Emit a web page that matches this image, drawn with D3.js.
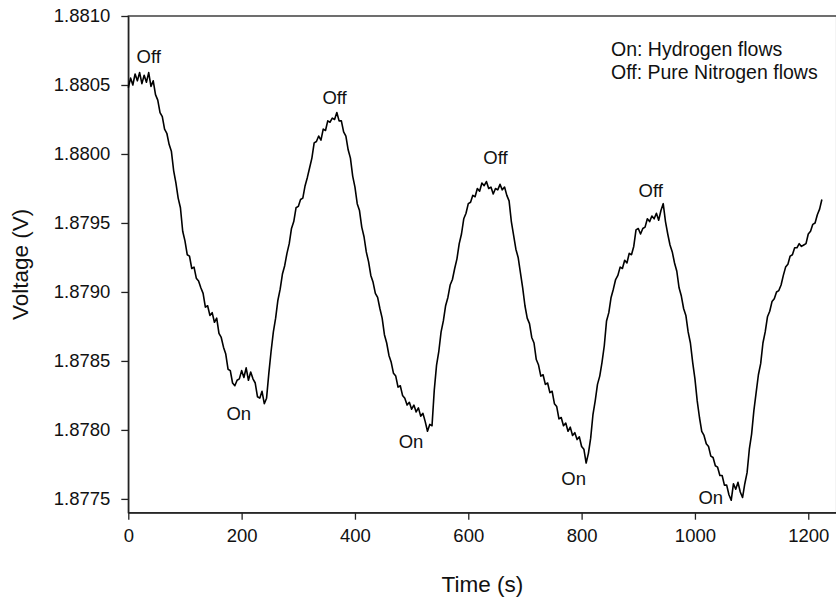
<!DOCTYPE html>
<html>

<head>
    <meta charset="utf-8" />
    <title>Voltage vs time</title>
    <style>
        body { margin: 0; background: #fff; }
        svg { display: block; font-family: "Liberation Sans", Arial, sans-serif; }
        .tick text { font-size: 18.5px; fill: #111; }
        .tick line, .domain { stroke: #222; stroke-width: 1.3px; }
    </style>
</head>

<body>
    <svg width=836 height=599></svg>
</body>

<script src="https://cdn.jsdelivr.net/npm/d3@7/dist/d3.min.js"></script>
<script>

    var sampleTimes = d3.range(0, 1225, 4);

    var volts = [
        1.88048, 1.88055, 1.88050, 1.88058, 1.88053, 1.88059, 1.88051, 1.88057, 1.88052, 1.88059, 1.88049, 1.88053, 1.88043, 1.88039, 1.88030, 1.88027, 1.88018, 1.88015, 1.88007, 1.88002, 1.87988, 1.87979, 1.87968, 1.87961, 1.87944,
        1.87937, 1.87927, 1.87926, 1.87917, 1.87918, 1.87910, 1.87908, 1.87903, 1.87899, 1.87889, 1.87890, 1.87883, 1.87885, 1.87878, 1.87881, 1.87870, 1.87867, 1.87860, 1.87855, 1.87844, 1.87843, 1.87834, 1.87832, 1.87836, 1.87837,
        1.87843, 1.87838, 1.87845, 1.87836, 1.87842, 1.87837, 1.87834, 1.87824, 1.87823, 1.87828, 1.87819, 1.87823, 1.87841, 1.87857, 1.87871, 1.87881, 1.87894, 1.87902, 1.87913, 1.87919, 1.87928, 1.87935, 1.87946, 1.87951, 1.87961,
        1.87962, 1.87967, 1.87968, 1.87977, 1.87983, 1.87990, 1.87997, 1.88008, 1.88009, 1.88013, 1.88010, 1.88018, 1.88017, 1.88024, 1.88023, 1.88026, 1.88025, 1.88030, 1.88024, 1.88024, 1.88016, 1.88013, 1.88003, 1.87997, 1.87984,
        1.87976, 1.87964, 1.87959, 1.87947, 1.87940, 1.87929, 1.87922, 1.87912, 1.87907, 1.87899, 1.87896, 1.87888, 1.87881, 1.87869, 1.87863, 1.87854, 1.87849, 1.87841, 1.87839, 1.87831, 1.87832, 1.87825, 1.87823, 1.87818, 1.87820,
        1.87815, 1.87818, 1.87813, 1.87816, 1.87810, 1.87812, 1.87806, 1.87799, 1.87804, 1.87803, 1.87829, 1.87847, 1.87857, 1.87871, 1.87879, 1.87890, 1.87896, 1.87905, 1.87909, 1.87917, 1.87924, 1.87935, 1.87942, 1.87953, 1.87957,
        1.87964, 1.87965, 1.87970, 1.87969, 1.87975, 1.87973, 1.87979, 1.87977, 1.87980, 1.87975, 1.87976, 1.87971, 1.87975, 1.87974, 1.87978, 1.87974, 1.87976, 1.87970, 1.87966, 1.87951, 1.87941, 1.87931, 1.87925, 1.87914, 1.87903,
        1.87890, 1.87881, 1.87877, 1.87867, 1.87863, 1.87851, 1.87847, 1.87839, 1.87840, 1.87833, 1.87834, 1.87827, 1.87828, 1.87819, 1.87817, 1.87808, 1.87809, 1.87803, 1.87805, 1.87799, 1.87802, 1.87796, 1.87798, 1.87793, 1.87795,
        1.87788, 1.87786, 1.87776, 1.87783, 1.87794, 1.87811, 1.87821, 1.87833, 1.87839, 1.87849, 1.87861, 1.87879, 1.87885, 1.87896, 1.87902, 1.87909, 1.87912, 1.87918, 1.87917, 1.87923, 1.87921, 1.87928, 1.87927, 1.87933, 1.87945,
        1.87946, 1.87942, 1.87946, 1.87947, 1.87953, 1.87951, 1.87955, 1.87953, 1.87957, 1.87952, 1.87959, 1.87964, 1.87951, 1.87942, 1.87934, 1.87929, 1.87921, 1.87915, 1.87903, 1.87897, 1.87888, 1.87883, 1.87871, 1.87863, 1.87849,
        1.87837, 1.87821, 1.87809, 1.87799, 1.87796, 1.87790, 1.87788, 1.87781, 1.87780, 1.87774, 1.87773, 1.87767, 1.87767, 1.87760, 1.87760, 1.87753, 1.87749, 1.87761, 1.87757, 1.87762, 1.87755, 1.87751, 1.87761, 1.87769, 1.87786,
        1.87797, 1.87814, 1.87827, 1.87840, 1.87848, 1.87863, 1.87871, 1.87882, 1.87886, 1.87893, 1.87895, 1.87900, 1.87901, 1.87905, 1.87912, 1.87918, 1.87920, 1.87926, 1.87927, 1.87932, 1.87932, 1.87935, 1.87933, 1.87934, 1.87935,
        1.87942, 1.87944, 1.87949, 1.87950, 1.87956, 1.87960, 1.87967
    ];

    var xTicks = [0, 200, 400, 600, 800, 1000, 1200];
    var yTicks = [1.8775, 1.8780, 1.8785, 1.8790, 1.8795, 1.8800, 1.8805, 1.8810];

    // On / Off marks: text, time, voltage
    var markText = ['Off', 'On', 'Off', 'On', 'Off', 'On', 'Off', 'On'];
    var markTime = [36, 195, 364, 499, 648, 786, 922, 1028];
    var markVolt = [1.88066, 1.87807, 1.88036, 1.87787, 1.87993, 1.87760, 1.87969, 1.87746];

    var legendLines = ['On: Hydrogen flows', 'Off: Pure Nitrogen flows'];

    var padL = 128.3, padT = 16, padR = 836.6, padB = 512.7;

    var x = d3.scaleLinear().domain([0, 1250]).range([padL, padR]);
    var y = d3.scaleLinear().domain([1.8774, 1.8810]).range([padB, padT]);

    var svg = d3.select('svg');

    // frame (right side falls off the picture)
    svg.append('rect')
        .attr('x', padL)
        .attr('y', padT)
        .attr('width', padR - padL)
        .attr('height', padB - padT)
        .attr('fill', 'none')
        .attr('stroke', '#222')
        .attr('stroke-width', 1.3);

    svg.append('g')
        .attr('transform', 'translate(0,' + padB + ')')
        .call(d3.axisBottom(x).tickValues(xTicks).tickFormat(d3.format('d'))
            .tickSize(7).tickSizeOuter(0).tickPadding(9));

    svg.append('g')
        .attr('transform', 'translate(' + padL + ',0)')
        .call(d3.axisLeft(y).tickValues(yTicks).tickFormat(d3.format('.4f'))
            .tickSize(7).tickSizeOuter(0).tickPadding(11));

    var pts = volts.map(function (v, i) {
        return [sampleTimes[i], v];
    });

    svg.append('path')
        .datum(pts)
        .attr('fill', 'none')
        .attr('stroke', '#000')
        .attr('stroke-width', 1.6)
        .attr('stroke-linejoin', 'round')
        .attr('d', d3.line()
            .x(function (d) { return x(d[0]); })
            .y(function (d) { return y(d[1]); }));

    svg.selectAll('text.mark')
        .data(markText)
        .enter()
        .append('text')
        .attr('class', 'mark')
        .attr('x', function (d, i) { return x(markTime[i]); })
        .attr('y', function (d, i) { return y(markVolt[i]); })
        .attr('text-anchor', 'middle')
        .style('font-size', '18.5px')
        .attr('fill', '#111')
        .text(function (d) { return d; });

    svg.selectAll('text.legend')
        .data(legendLines)
        .enter()
        .append('text')
        .attr('class', 'legend')
        .attr('x', 611)
        .attr('y', function (d, i) { return 56 + i * 22.7; })
        .style('font-size', '19.5px')
        .attr('fill', '#111')
        .text(function (d) { return d; });

    svg.append('text')
        .attr('x', (padL + padR) / 2)
        .attr('y', 591.5)
        .attr('text-anchor', 'middle')
        .style('font-size', '22.5px')
        .attr('fill', '#111')
        .text('Time (s)');

    svg.append('text')
        .attr('transform', 'translate(28,' + (padT + padB) / 2 + ') rotate(-90)')
        .attr('text-anchor', 'middle')
        .style('font-size', '22.5px')
        .attr('fill', '#111')
        .text('Voltage (V)');
</script>

</html>
